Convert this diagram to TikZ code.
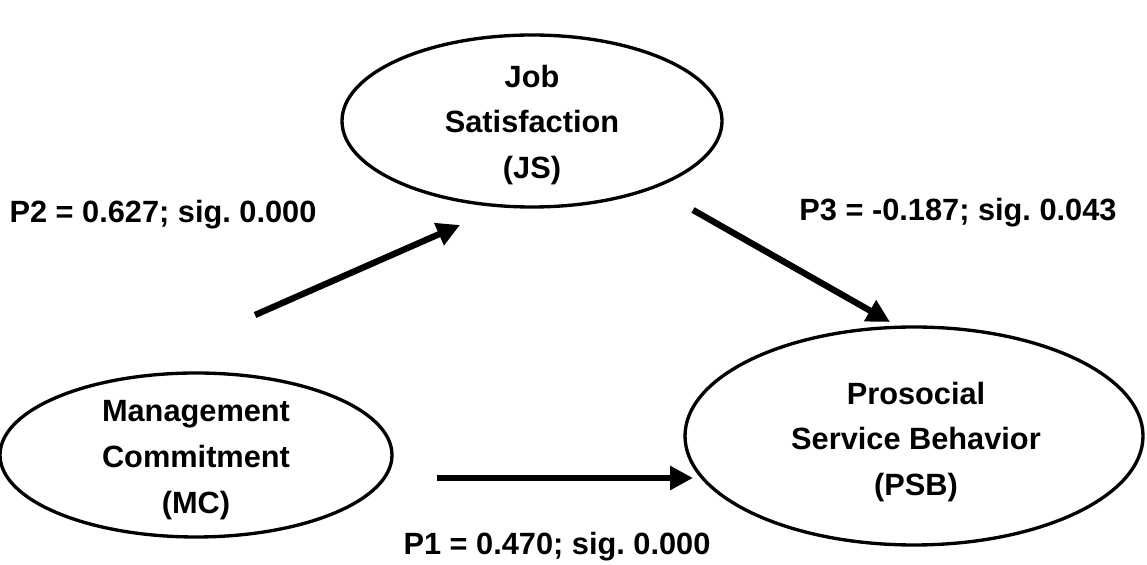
\documentclass[tikz,border=0pt]{standalone}
\usepackage{fontspec}
\setmainfont{Liberation Sans}
\usepackage{tikz}
\usetikzlibrary{arrows.meta,positioning,shapes.geometric}
\frenchspacing

\begin{document}
\begin{tikzpicture}[>=Latex,
    latent/.style={ellipse,draw,line width=1.9pt,inner sep=0pt},
    lbl/.style={align=center,font=\fontsize{17.5}{26}\selectfont\bfseries},
    link/.style={-{Triangle[length=4.6mm,width=4.6mm]},line width=3.6pt}]
    \useasboundingbox (0,0) rectangle (22.94,-11.3);
    % constructs
    \node[latent,minimum width=7.6cm,minimum height=3.44cm] (js) at (10.64,-2.42) {};
    \node[latent,minimum width=7.84cm,minimum height=3.28cm] (mc) at (3.92,-9.1) {};
    \node[latent,minimum width=9.16cm,minimum height=4.36cm] (psb) at (18.28,-8.72) {};
    \node[lbl] (jstext) at (10.64,-2.5) {Job\\Satisfaction\\(JS)};
    \node[lbl] (mctext) at (3.92,-9.2) {Management\\Commitment\\(MC)};
    \node[lbl] (psbtext) at (18.32,-8.84) {Prosocial\\Service Behavior\\(PSB)};
    % path coefficients
    \node[lbl] (p2) at (3.26,-4.3) {P2 = 0.627; sig. 0.000};
    \node[lbl] (p3) at (19.16,-4.26) {P3 = -0.187; sig. 0.043};
    \node[lbl] (p1) at (11.14,-10.94) {P1 = 0.470; sig. 0.000};
    % arrows
    \coordinate (mcjs) at (5.1,-6.3);
    \coordinate (jsin) at (9.2,-4.5);
    \coordinate (jspsb) at (13.86,-4.2);
    \coordinate (psbtop) at (17.8,-6.44);
    \coordinate (mcpsb) at (8.74,-9.56);
    \coordinate (psbin) at (13.86,-9.56);
    \draw[link] (mcjs) -- (jsin);
    \draw[link] (jspsb) -- (psbtop);
    \draw[link] (mcpsb) -- (psbin);
\end{tikzpicture}
\end{document}
